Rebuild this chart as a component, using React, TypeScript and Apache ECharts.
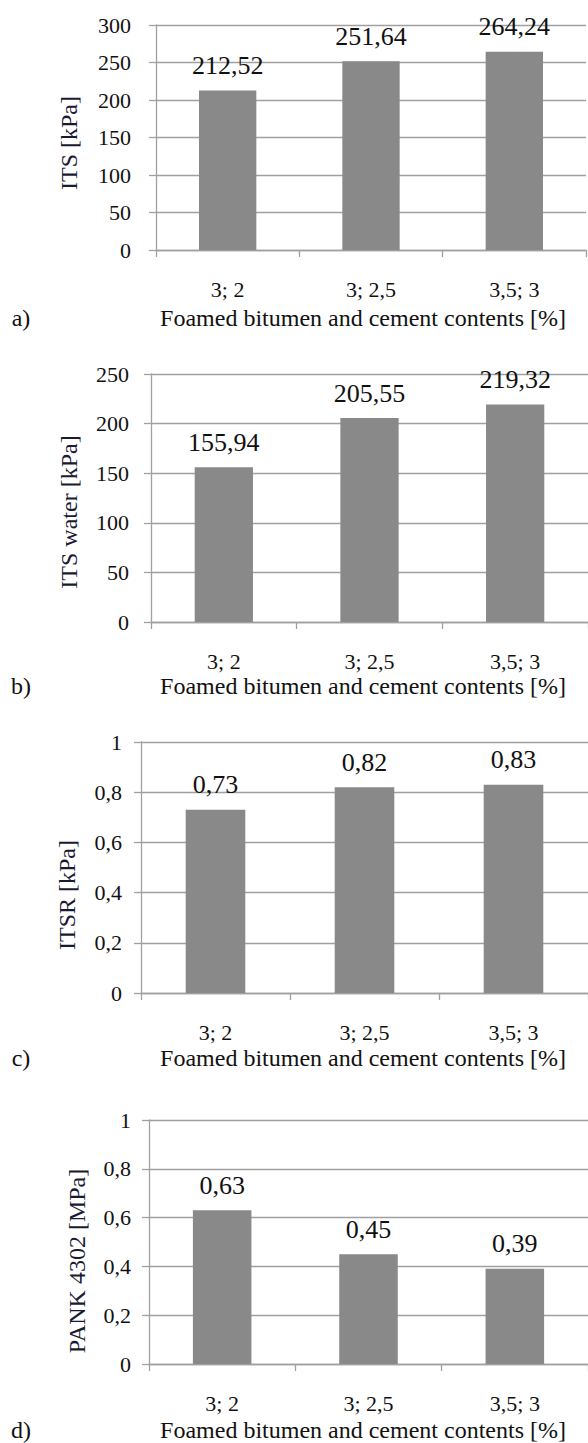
import React, { useEffect, useRef } from "react";
import * as echarts from "echarts";

const categories = ["3; 2", "3; 2,5", "3,5; 3"];
const itsValues = [212.52, 251.64, 264.24];
const itsWaterValues = [155.94, 205.55, 219.32];
const itsrValues = [0.73, 0.82, 0.83];
const pankValues = [0.63, 0.45, 0.39];

const panelLetters = ["a)", "b)", "c)", "d)"];
const yTitles = ["ITS [kPa]", "ITS water [kPa]", "ITSR [kPa]", "PANK 4302 [MPa]"];
const xTitle = "Foamed bitumen and cement contents [%]";
const yMax = [300, 250, 1, 1];
const yInterval = [50, 50, 0.2, 0.2];

const FONT = "Liberation Serif";

// layout (px)
const grids = [
  { left: 156, top: 25, width: 430, height: 225, labelMargin: 25, yTitleX: 69, yTitleY: 143, titleY: 318 },
  { left: 151, top: 374, width: 441, height: 248, labelMargin: 22, yTitleX: 69, yTitleY: 512, titleY: 686 },
  { left: 141, top: 742, width: 451, height: 251, labelMargin: 19, yTitleX: 67, yTitleY: 895, titleY: 1058 },
  { left: 149, top: 1120, width: 440, height: 244, labelMargin: 18, yTitleX: 77, yTitleY: 1261, titleY: 1430 },
];

const fmt = (v: number) => String(+Number(v).toFixed(2)).replace(".", ",");

export default function App() {
  const ref = useRef<HTMLDivElement>(null);
  useEffect(() => {
    document.body.style.margin = "0";
    if (!ref.current) return;
    const chart = echarts.init(ref.current, null, { renderer: "svg" });
    const seriesData = [itsValues, itsWaterValues, itsrValues, pankValues];
    const gridColor = "#a0a0a0";
    const option: any = {
      animation: false,
      backgroundColor: "#ffffff",
      textStyle: { fontFamily: FONT },
      grid: grids.map((g) => ({ left: g.left, top: g.top, width: g.width, height: g.height, containLabel: false })),
      xAxis: grids.map((g, i) => ({
        type: "category",
        gridIndex: i,
        data: categories,
        axisLine: { show: true, lineStyle: { color: gridColor, width: 1.3 } },
        axisTick: { show: true, length: 7, lineStyle: { color: gridColor, width: 1.3 } },
        axisLabel: { color: "#111", fontFamily: FONT, fontSize: 22, margin: 28 },
        splitLine: { show: false },
      })),
      yAxis: grids.map((g, i) => ({
        type: "value",
        gridIndex: i,
        min: 0,
        max: yMax[i],
        interval: yInterval[i],
        axisLine: { show: true, lineStyle: { color: gridColor, width: 1.3 } },
        axisTick: { show: true, length: 7, lineStyle: { color: gridColor, width: 1.3 } },
        axisLabel: {
          color: "#111",
          fontFamily: FONT,
          fontSize: 22,
          margin: g.labelMargin,
          formatter: (v: number) => fmt(v),
        },
        splitLine: { show: true, lineStyle: { color: gridColor, width: 1.3 } },
      })),
      series: seriesData.map((d, i) => ({
        type: "bar",
        xAxisIndex: i,
        yAxisIndex: i,
        data: d,
        barWidth: "40%",
        itemStyle: { color: "#898989" },
        label: {
          show: true,
          position: "top",
          distance: 12,
          color: "#111",
          fontFamily: FONT,
          fontSize: 26,
          formatter: (p: any) => fmt(p.value),
        },
      })),
      graphic: [
        ...grids.map((g, i) => ({
          type: "text",
          x: g.yTitleX,
          y: g.yTitleY,
          rotation: Math.PI / 2,
          style: {
            text: yTitles[i],
            fill: "#1a1a33",
            fontFamily: FONT,
            fontSize: 24,
            align: "center",
            verticalAlign: "middle",
          },
        })),
        ...grids.map((g) => ({
          type: "text",
          x: 363,
          y: g.titleY,
          style: {
            text: xTitle,
            fill: "#111",
            fontFamily: FONT,
            fontSize: 24,
            align: "center",
            verticalAlign: "middle",
          },
        })),
        ...grids.map((g, i) => ({
          type: "text",
          x: 21,
          y: g.titleY,
          style: {
            text: panelLetters[i],
            fill: "#111",
            fontFamily: FONT,
            fontSize: 24,
            align: "center",
            verticalAlign: "middle",
          },
        })),
      ],
    };
    chart.setOption(option);
    return () => chart.dispose();
  }, []);
  return <div ref={ref} style={{ width: 588, height: 1443 }} />;
}
